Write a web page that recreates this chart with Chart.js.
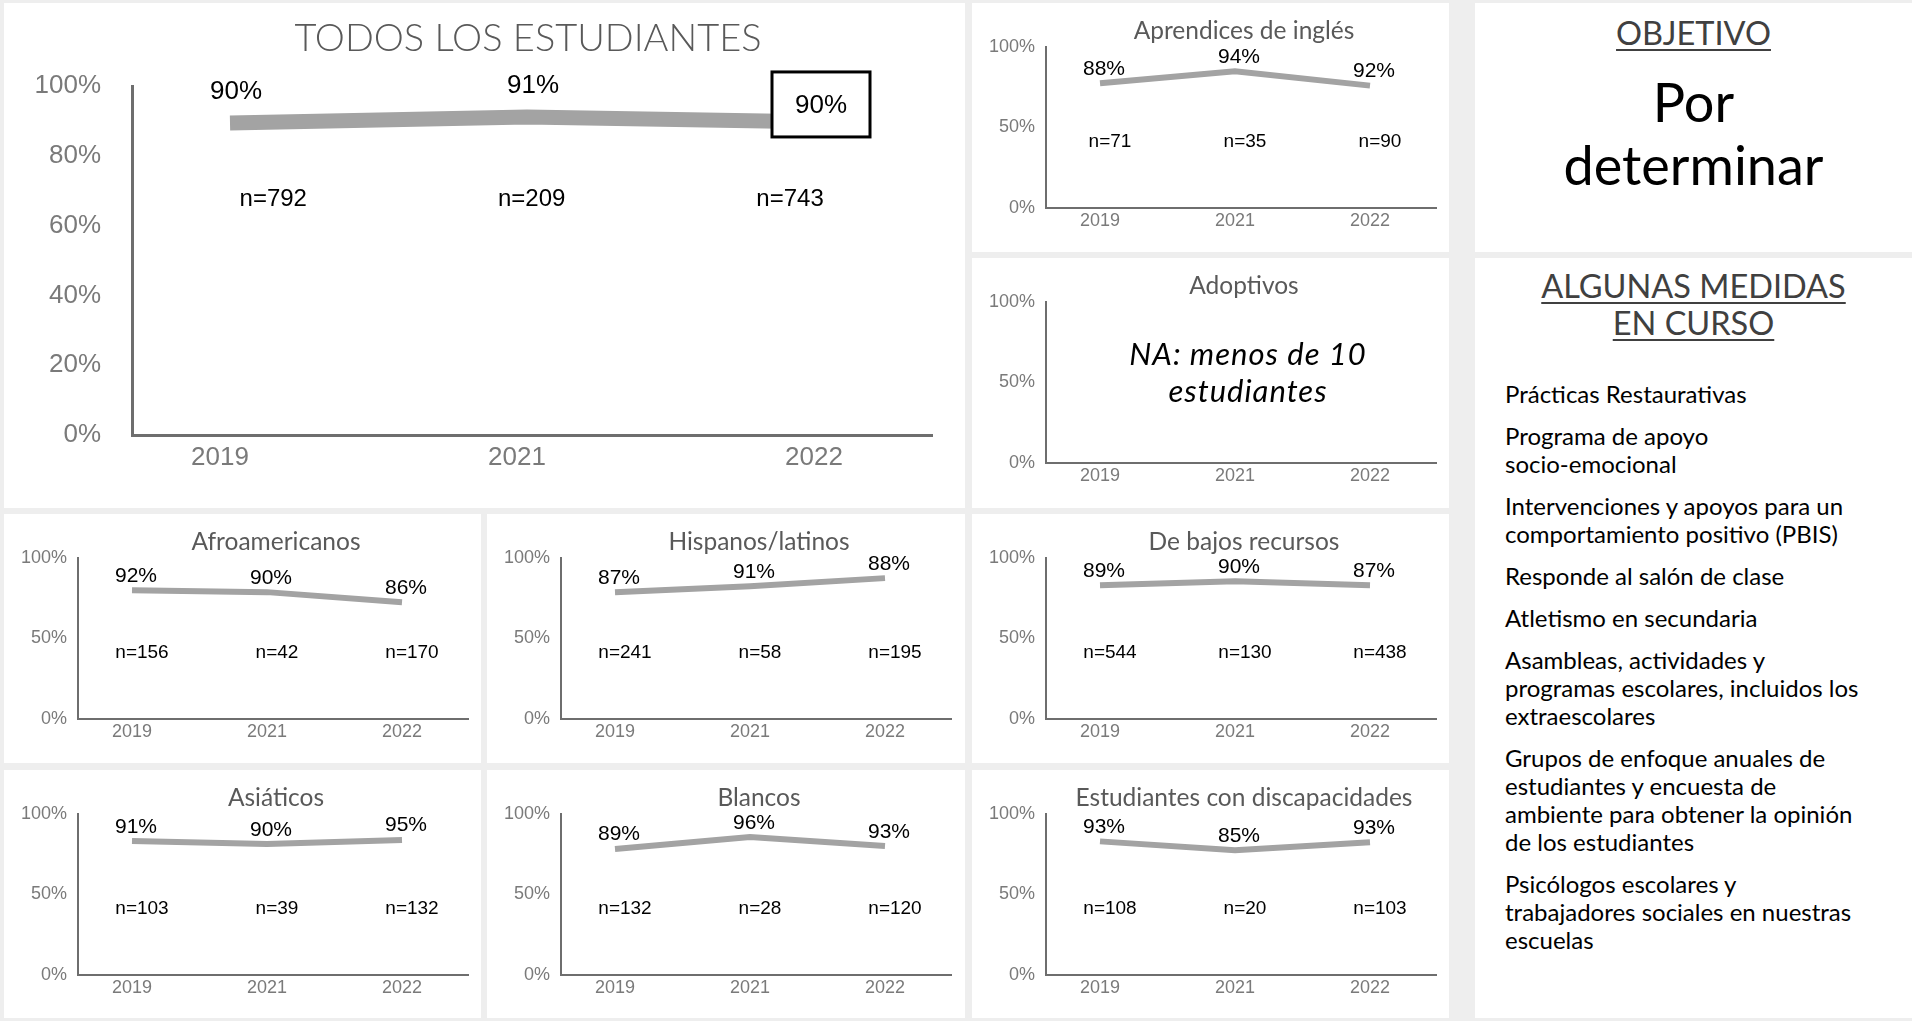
<!DOCTYPE html>
<html>
<head>
<meta charset="utf-8">
<script src="https://cdn.jsdelivr.net/npm/chart.js@4.4.1/dist/chart.umd.min.js"></script>
<style>
  body { margin: 0; width: 1912px; height: 1021px; background: #eeeeee; position: relative; overflow: hidden; font-family: Lato, "Noto Sans", sans-serif; }
  .panel { position: absolute; background: #fff; }
  .panel canvas { position: absolute; left: 0; top: 0; }
  .txt { position: absolute; white-space: nowrap; }
  .head { color: #404040; text-decoration: underline; text-decoration-thickness: 2px; text-underline-offset: 4px; text-align: center; }
  .list p { margin: 0 0 14px 0; }
</style>
</head>
<body>

<div class="panel" style="left:4px;top:3px;width:961px;height:505px"><canvas id="todos" width="961" height="505"></canvas></div>
<div class="panel" style="left:972px;top:3px;width:477px;height:249px"><canvas id="ingles" width="477" height="249"></canvas></div>
<div class="panel" style="left:972px;top:258px;width:477px;height:250px"><canvas id="adopt" width="477" height="250"></canvas></div>
<div class="panel" style="left:4px;top:514px;width:477px;height:249px"><canvas id="afro" width="477" height="249"></canvas></div>
<div class="panel" style="left:487px;top:514px;width:478px;height:249px"><canvas id="hisp" width="478" height="249"></canvas></div>
<div class="panel" style="left:972px;top:514px;width:477px;height:249px"><canvas id="bajos" width="477" height="249"></canvas></div>
<div class="panel" style="left:4px;top:770px;width:477px;height:248px"><canvas id="asia" width="477" height="248"></canvas></div>
<div class="panel" style="left:487px;top:770px;width:478px;height:248px"><canvas id="blanc" width="478" height="248"></canvas></div>
<div class="panel" style="left:972px;top:770px;width:477px;height:248px"><canvas id="disc" width="477" height="248"></canvas></div>

<div class="panel" style="left:1475px;top:3px;width:437px;height:249px"></div>
<div class="panel" style="left:1475px;top:258px;width:437px;height:760px"></div>

<div class="txt head" style="left:1475px;width:437px;top:13px;font-size:32.5px;line-height:39px">OBJETIVO</div>
<div class="txt" style="left:1475px;width:437px;top:69.6px;font-size:54px;line-height:63px;text-align:center;color:#000">Por<br>determinar</div>
<div class="txt head" style="left:1475px;width:437px;top:267px;font-size:32.5px;line-height:37px">ALGUNAS MEDIDAS<br>EN CURSO</div>
<div class="txt list" style="left:1505px;top:379.5px;font-size:24px;line-height:28px;color:#000">
  <p>Prácticas Restaurativas</p>
  <p>Programa de apoyo<br>socio-emocional</p>
  <p>Intervenciones y apoyos para un<br>comportamiento positivo (PBIS)</p>
  <p>Responde al salón de clase</p>
  <p>Atletismo en secundaria</p>
  <p>Asambleas, actividades y<br>programas escolares, incluidos los<br>extraescolares</p>
  <p>Grupos de enfoque anuales de<br>estudiantes y encuesta de<br>ambiente para obtener la opinión<br>de los estudiantes</p>
  <p>Psicólogos escolares y<br>trabajadores sociales en nuestras<br>escuelas</p>
</div>

<script>
// categories
const years = ["2019", "2021", "2022"];

// plotted line levels + the label texts shown above them
const todosVals = [89.4, 91.1, 89.7];
const todosPct = ["90%", "91%", "90%"];
const todosN = ["n=792", "n=209", "n=743"];

const inglesVals = [77.5, 85, 76];
const inglesPct = ["88%", "94%", "92%"];
const inglesN = ["n=71", "n=35", "n=90"];

const afroVals = [80, 78.8, 72.5];
const afroPct = ["92%", "90%", "86%"];
const afroN = ["n=156", "n=42", "n=170"];

const hispVals = [78.8, 82.5, 87.5];
const hispPct = ["87%", "91%", "88%"];
const hispN = ["n=241", "n=58", "n=195"];

const bajosVals = [83, 85.6, 83];
const bajosPct = ["89%", "90%", "87%"];
const bajosN = ["n=544", "n=130", "n=438"];

const asiaVals = [83.2, 81.4, 83.9];
const asiaPct = ["91%", "90%", "95%"];
const asiaN = ["n=103", "n=39", "n=132"];

const blancVals = [78.3, 85.7, 80.1];
const blancPct = ["89%", "96%", "93%"];
const blancN = ["n=132", "n=28", "n=120"];

const discVals = [83, 77.5, 82.5];
const discPct = ["93%", "85%", "93%"];
const discN = ["n=108", "n=20", "n=103"];

Chart.defaults.font.family = "'Liberation Sans', Arial, sans-serif";
Chart.defaults.color = "#7a7a7a";

const AXIS = "#6e6e6e";
const LINE = "#a3a3a3";
const TITLE_FONT = "Lato, 'Noto Sans', sans-serif";

// titles, data labels, n labels, NA note
const labelPlugin = {
  id: "labels",
  afterDatasetsDraw(chart, args, o) {
    const { ctx, chartArea: a, scales: { x, y } } = chart;
    const mid = (a.left + a.right) / 2;
    ctx.save();
    ctx.textAlign = "center";
    ctx.textBaseline = "alphabetic";
    ctx.fillStyle = "#595959";
    ctx.font = o.titleFont;
    ctx.fillText(o.title, mid + o.titleDx, o.titleY);

    if (o.pct) {
      ctx.font = o.pctSize + "px 'Liberation Sans', Arial";
      o.vals.forEach((v, i) => {
        const px = x.getPixelForValue(i);
        const py = y.getPixelForValue(v);
        if (o.boxLast && i === o.vals.length - 1) {
          const cx = px - 3, cy = py - 18;
          ctx.fillStyle = "#fff";
          ctx.fillRect(cx - 49, cy - 32, 98, 65);
          ctx.lineWidth = 3;
          ctx.strokeStyle = "#000";
          ctx.strokeRect(cx - 49, cy - 32, 98, 65);
          ctx.fillStyle = "#000";
          ctx.fillText(o.pct[i], cx, cy + o.pctSize * 0.36);
        } else {
          ctx.fillStyle = "#000";
          ctx.fillText(o.pct[i], px + o.pctDx, py - o.pctDy + o.pctSize * 0.36);
        }
      });
      ctx.font = o.nSize + "px 'Liberation Sans', Arial";
      const ny = y.getPixelForValue(o.nAt);
      o.n.forEach((t, i) => {
        const px = x.getPixelForValue(i);
        ctx.fillText(t, px + (mid - px) * o.nPull + o.nDx, ny + o.nSize * 0.36);
      });
    }

    if (o.note) {
      ctx.fillStyle = "#000";
      ctx.font = "italic 31px " + TITLE_FONT;
      ctx.letterSpacing = "1px";
      o.note.forEach((t, i) => ctx.fillText(t, mid + 7, 107 + i * 37));
    }
    ctx.restore();
  }
};

function makeChart(id, g, lab, vals) {
  const cv = document.getElementById(id);
  const W = cv.width, H = cv.height;
  return new Chart(cv, {
    type: "line",
    data: {
      datasets: vals ? [{
        data: vals.map((v, i) => ({ x: i, y: v })),
        borderColor: LINE,
        borderWidth: g.lineW,
        borderJoinStyle: "miter",
        borderCapStyle: "butt",
        pointRadius: 0,
        tension: 0,
        fill: false
      }] : []
    },
    options: {
      responsive: false,
      animation: false,
      devicePixelRatio: 1,
      layout: { padding: { left: 0, top: g.t, right: W - g.r, bottom: 0 } },
      plugins: { legend: { display: false }, tooltip: { enabled: false }, title: { display: false }, labels: lab },
      scales: {
        x: {
          type: "linear",
          min: (g.l - g.first) / g.step,
          max: (g.r - g.first) / g.step,
          afterFit: (s) => { s.height = H - g.b; },
          afterBuildTicks: (s) => { s.ticks = years.map((_, i) => ({ value: i })); },
          grid: { display: false, drawTicks: false },
          border: { display: true, color: AXIS, width: g.axisW },
          ticks: { font: { size: g.tickSize }, padding: g.xPad, labelOffset: g.labelOffset, callback: (v) => years[v] }
        },
        y: {
          min: 0,
          max: 100,
          afterFit: (s) => { s.width = g.l; },
          grid: { display: false, drawTicks: false },
          border: { display: true, color: AXIS, width: g.axisW },
          ticks: { stepSize: g.yStep, font: { size: g.tickSize }, padding: g.yPad, callback: (v) => v + "%" }
        }
      }
    },
    plugins: [labelPlugin]
  });
}

const bigGeom = { l: 128, r: 928, t: 83, b: 432, first: 226, step: 297, lineW: 15, axisW: 3, tickSize: 26, yStep: 20, yPad: 31, xPad: 7, labelOffset: -10 };
const smallGeom = { l: 74, r: 464, t: 44, b: 205, first: 128, step: 135, lineW: 6, axisW: 2, tickSize: 18, yStep: 50, yPad: 11, xPad: 2, labelOffset: 0 };

function smallLab(title, vals, pct, n) {
  return { title, titleFont: "24.5px " + TITLE_FONT, titleY: 36, titleDx: 3,
           vals, pct, n, pctSize: 21, pctDx: 4, pctDy: 16, nSize: 19, nAt: 42, nDx: 10, nPull: 0 };
}

makeChart("todos", bigGeom, {
  title: "TODOS LOS ESTUDIANTES", titleFont: "300 38px " + TITLE_FONT, titleY: 48, titleDx: -4,
  vals: todosVals, pct: todosPct, n: todosN, pctSize: 26, pctDx: 6, pctDy: 33, boxLast: true,
  nSize: 24, nAt: 68.2, nDx: 4, nPull: 0.13
}, todosVals);

makeChart("ingles", smallGeom, smallLab("Aprendices de inglés", inglesVals, inglesPct, inglesN), inglesVals);
makeChart("adopt", smallGeom, { title: "Adoptivos", titleFont: "24.5px " + TITLE_FONT, titleY: 36, titleDx: 3,
  note: ["NA: menos de 10", "estudiantes"] }, null);
makeChart("afro", smallGeom, smallLab("Afroamericanos", afroVals, afroPct, afroN), afroVals);
makeChart("hisp", smallGeom, smallLab("Hispanos/latinos", hispVals, hispPct, hispN), hispVals);
makeChart("bajos", smallGeom, smallLab("De bajos recursos", bajosVals, bajosPct, bajosN), bajosVals);
makeChart("asia", smallGeom, smallLab("Asiáticos", asiaVals, asiaPct, asiaN), asiaVals);
makeChart("blanc", smallGeom, smallLab("Blancos", blancVals, blancPct, blancN), blancVals);
makeChart("disc", smallGeom, smallLab("Estudiantes con discapacidades", discVals, discPct, discN), discVals);
</script>
</body>
</html>
